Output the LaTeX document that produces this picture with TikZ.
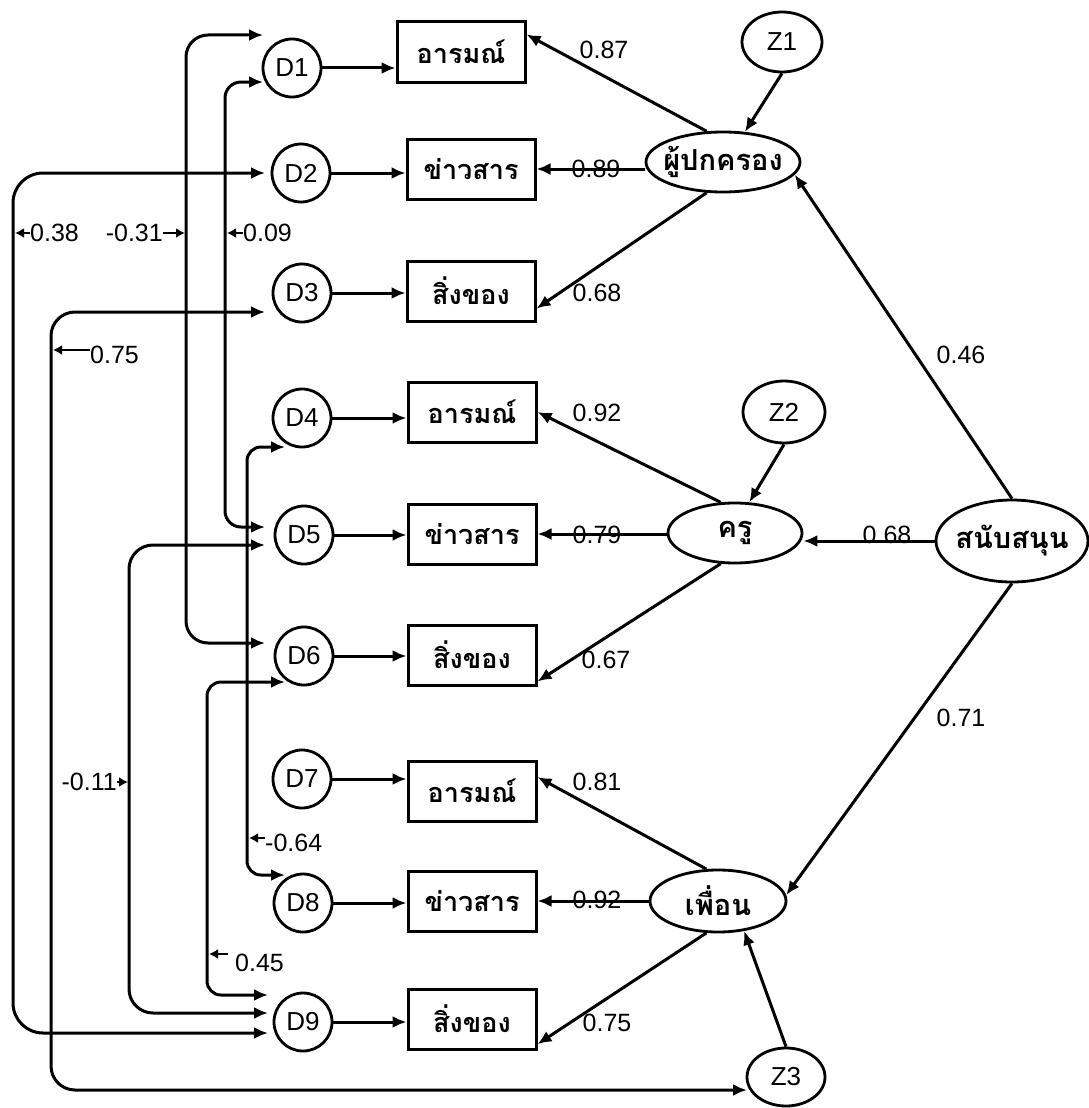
\documentclass[tikz,border=0pt]{standalone}
\usepackage{fontspec}
\setmainfont{Liberation Sans}
\newfontfamily\thaifont[Script=Thai]{Loma}
\usetikzlibrary{shapes.geometric,arrows.meta,calc}
\newcommand\zw[1]{\makebox[0pt]{#1}}
\begin{document}
\begin{tikzpicture}[x=1pt,y=-1pt,
  dnode/.style={circle,draw,line width=2.8pt,minimum size=58pt,inner sep=0pt,font=\fontsize{26}{28}\selectfont},
  obs/.style={rectangle,draw,line width=3pt,minimum width=128pt,minimum height=60pt,inner sep=0pt,font=\thaifont\bfseries\fontsize{27}{29}\selectfont},
  lat/.style={ellipse,draw,line width=2.8pt,inner sep=0pt,font=\thaifont\bfseries\fontsize{29}{31}\selectfont},
  zn/.style={ellipse,draw,line width=2.8pt,inner sep=0pt,font=\fontsize{26}{28}\selectfont},
  arr/.style={line width=3pt,-{Latex[length=14pt,width=12pt]}},
  cor/.style={line width=3pt,{Latex[length=14pt,width=12pt]}-{Latex[length=14pt,width=12pt]}},
  lab/.style={inner sep=0pt,font=\fontsize{25}{27}\selectfont},
  tick/.style={line width=2.6pt,-{Latex[length=9pt,width=10pt]}}
]
\useasboundingbox (0,0) rectangle (1089,1108);

% error nodes
\node[dnode] (D1) at (292,68) {D1};
\node[dnode] (D2) at (301,173) {D2};
\node[dnode] (D3) at (302,293) {D3};
\node[dnode] (D4) at (302,418) {D4};
\node[dnode] (D5) at (304,535) {D5};
\node[dnode] (D6) at (304,656) {D6};
\node[dnode] (D7) at (302,779) {D7};
\node[dnode] (D8) at (303,903) {D8};
\node[dnode] (D9) at (303,1022) {D9};

% observed
\node[obs] (B1) at (461,52) {อารมณ์};
\node[obs] (B2) at (471,169) {ข่าวสาร};
\node[obs] (B3) at (471,291) {สิ่งของ};
\node[obs] (B4) at (472,412) {อารมณ์};
\node[obs] (B5) at (472,534) {ข่าวสาร};
\node[obs] (B6) at (472,655) {สิ่งของ};
\node[obs] (B7) at (472,791) {อารมณ์};
\node[obs] (B8) at (472,901) {ข่าวสาร};
\node[obs] (B9) at (472,1019) {สิ่งของ};

% latent
\node[lat,minimum width=154pt,minimum height=60pt] (P) at (723,162) {\zw{ผู้ปกครอง}};
\node[lat,minimum width=134pt,minimum height=60pt] (T) at (735,533) {\zw{ครู}};
\node[lat,minimum width=136pt,minimum height=62pt] (F) at (718,901) {\zw{เพื่อน}};
\node[lat,minimum width=152pt,minimum height=82pt] (S) at (1012,541) {\zw{สนับสนุน}};
\node[zn,minimum width=80pt,minimum height=60pt] (Z1) at (782,42) {Z1};
\node[zn,minimum width=82pt,minimum height=62pt] (Z2) at (784,412) {Z2};
\node[zn,minimum width=78pt,minimum height=58pt] (Z3) at (786,1077) {Z3};

% D -> box
\foreach \i in {1,...,9}{
  \draw[arr] (D\i.east) -- (D\i.east -| B\i.west);
}

% latent -> box
\draw[arr] (P.118) -- (B1.15);
\draw[arr] (P.west |- B2.east) -- (B2.east);
\draw[arr] (P.242) -- (B3.-15);
\draw[arr] (T.115) -- (B4.east);
\draw[arr] (T.west |- B5.east) -- (B5.east);
\draw[arr] (T.245) -- (B6.-22);
\draw[arr] (F.110) -- (B7.12);
\draw[arr] (F.west |- B8.east) -- (B8.east);
\draw[arr] (F.250) -- (B9.-21);

% structural
\draw[arr] (S.north) -- (P.-10);
\draw[arr] (S.west) -- (S.west -| T.east);
\draw[arr] (S.south) -- (F.5);
\draw[arr] (Z1.south) -- (P.54);
\draw[arr] (Z2.south) -- (T.65);
\draw[arr] (Z3.north) -- (F.-49);

% loadings labels
\node[lab] at (604,50) {0.87};
\node[lab] at (596,169) {0.89};
\node[lab] at (597,293) {0.68};
\node[lab] at (597,413) {0.92};
\node[lab] at (597,535) {0.79};
\node[lab] at (606,660) {0.67};
\node[lab] at (597,782) {0.81};
\node[lab] at (597,900) {0.92};
\node[lab] at (607,1023) {0.75};
\node[lab] at (961,355) {0.46};
\node[lab] at (887,535) {0.68};
\node[lab] at (961,718) {0.71};

% correlated errors
\draw[cor,rounded corners=30pt] ($(D2)+(-36,0)$) -- (13,173) -- (13,1033) -- ($(D9)+(-35,11)$);
\draw[cor,rounded corners=22pt] ($(D1)+(-29,-33)$) -- (186,35) -- (186,643) -- ($(D6)+(-39,-13)$);
\draw[cor,rounded corners=16pt] ($(D1)+(-29,14)$) -- (225,82) -- (225,527) -- ($(D5)+(-39,-8)$);
\draw[cor,rounded corners=24pt] ($(D3)+(-37,19)$) -- (51,312) -- (51,1090) -- ($(Z3)+(-39,13)$);
\draw[cor,rounded corners=14pt] ($(D4)+(-17,29)$) -- (247,447) -- (247,875) -- ($(D8)+(-18,-28)$);
\draw[cor,rounded corners=24pt] ($(D5)+(-39,10)$) -- (129,545) -- (129,1013) -- ($(D9)+(-35,-9)$);
\draw[cor,rounded corners=14pt] ($(D6)+(-19,26)$) -- (207,682) -- (207,995) -- ($(D9)+(-35,-27)$);

% correlation labels
\node[lab,anchor=west] (l1) at (30,233) {0.38};
\draw[tick] (l1.west) -- (15,233);
\node[lab,anchor=east] (l2) at (163,233) {-0.31};
\draw[tick] (l2.east) -- (185,233);
\node[lab,anchor=west] (l3) at (243,233) {0.09};
\draw[tick] (l3.west) -- (227,233);
\node[lab,anchor=west] (l4) at (90,355) {0.75};
\draw[tick] (90,350) -- (53,350);
\node[lab,anchor=west] (l5) at (265,843) {-0.64};
\draw[tick] (265,838) -- (249,838);
\node[lab,anchor=east] (l6) at (117,782) {-0.11};
\draw[tick] (l6.east) -- (128,782);
\node[lab,anchor=west] (l7) at (235,963) {0.45};
\draw[tick] (228,954) -- (209,954);
\end{tikzpicture}
\end{document}
